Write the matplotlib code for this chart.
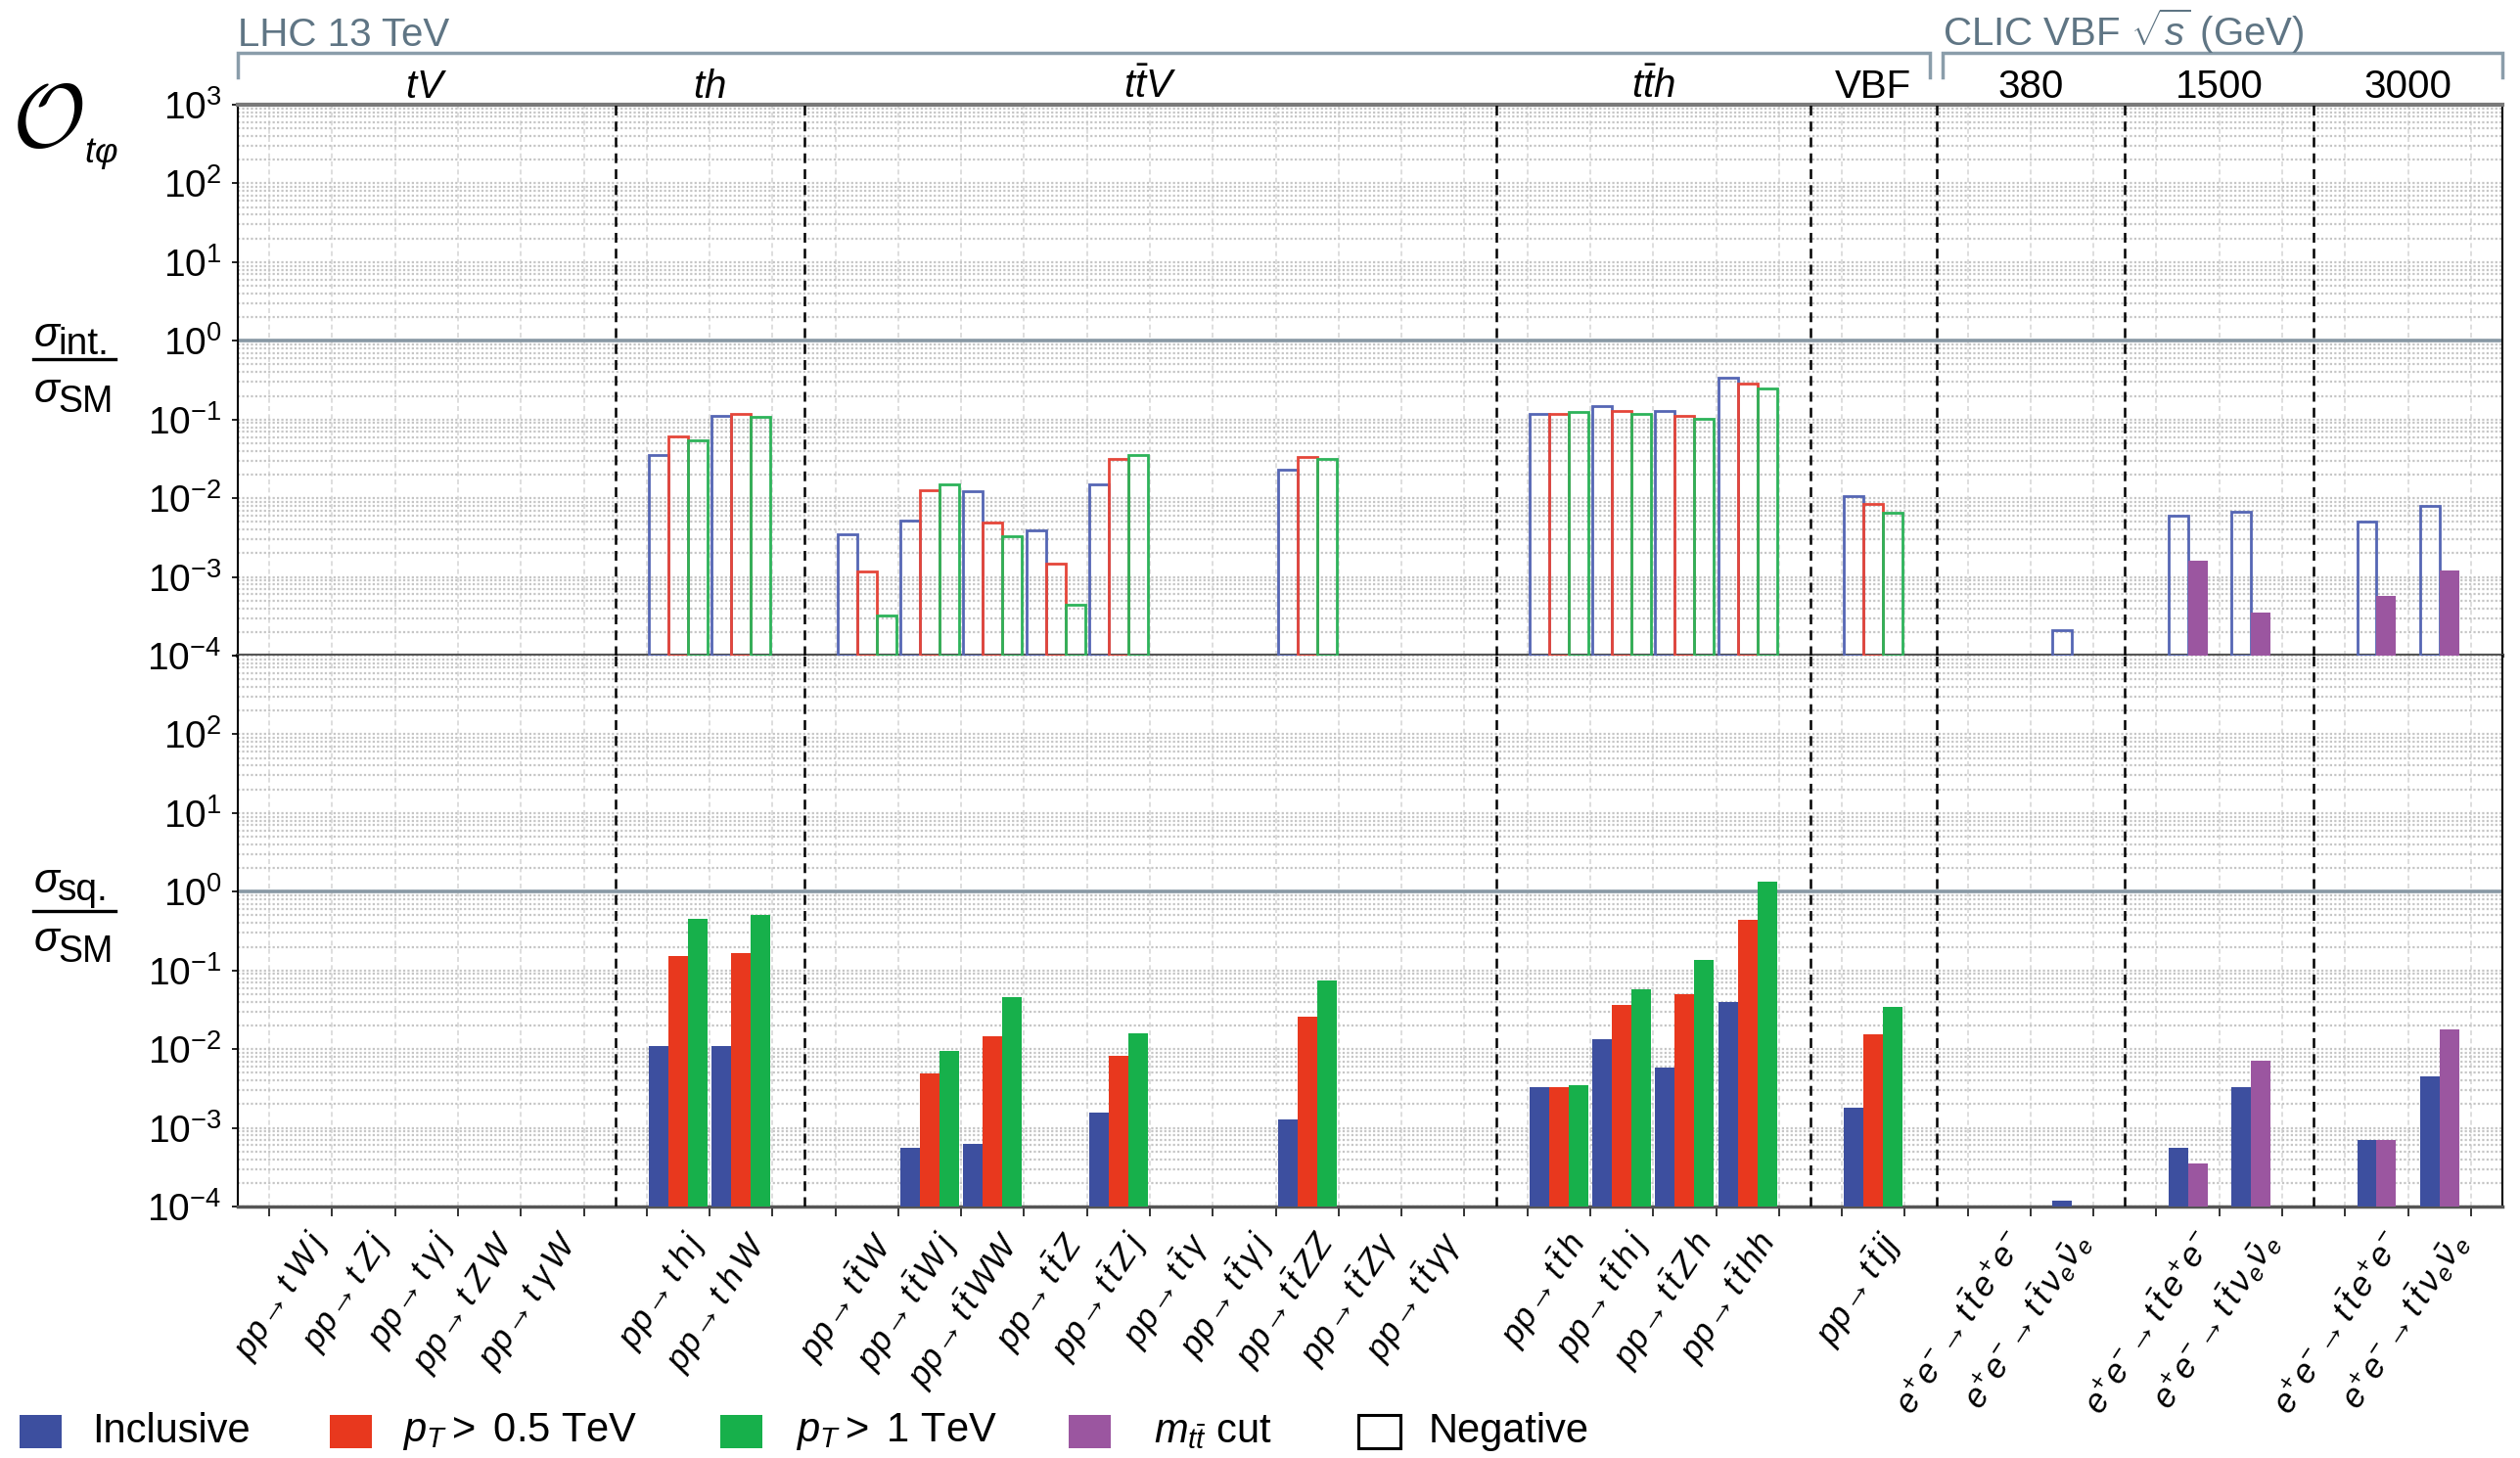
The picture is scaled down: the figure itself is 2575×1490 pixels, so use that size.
import numpy as np
import matplotlib
matplotlib.use('Agg')
import matplotlib.pyplot as plt
import matplotlib.transforms as mtransforms
from matplotlib.lines import Line2D
from matplotlib.patches import Rectangle
from matplotlib.ticker import LogLocator, NullFormatter

plt.rcParams['font.family'] = ['Liberation Sans', 'DejaVu Sans']
plt.rcParams['mathtext.fontset'] = 'custom'
plt.rcParams['mathtext.rm'] = 'Liberation Sans'
plt.rcParams['mathtext.it'] = 'Liberation Sans:italic'
plt.rcParams['mathtext.bf'] = 'Liberation Sans:bold'
plt.rcParams['mathtext.sf'] = 'Liberation Sans'

nan = np.nan

# ---------------- data ----------------
group_names = [r'$tV$', r'$th$', r'$t\bar{t}V$', r'$t\bar{t}h$', 'VBF', '380', '1500', '3000']
group_sizes = [5, 2, 10, 4, 1, 2, 2, 2]

categories = [
    r'$pp\!\rightarrow t\;W\,j$', r'$pp\!\rightarrow t\;Z\,j$', r'$pp\!\rightarrow t\;\gamma\,j$',
    r'$pp\!\rightarrow t\;Z\,W$', r'$pp\!\rightarrow t\;\gamma\,W$',
    r'$pp\!\rightarrow t\;h\,j$', r'$pp\!\rightarrow t\;h\,W$',
    r'$pp\!\rightarrow t\,\bar{t}\,W$', r'$pp\!\rightarrow t\,\bar{t}\,W\,j$', r'$pp\!\rightarrow t\,\bar{t}\,WW$',
    r'$pp\!\rightarrow t\,\bar{t}\,Z$', r'$pp\!\rightarrow t\,\bar{t}\,Z\,j$', r'$pp\!\rightarrow t\,\bar{t}\,\gamma$',
    r'$pp\!\rightarrow t\,\bar{t}\,\gamma\,j$', r'$pp\!\rightarrow t\,\bar{t}\,ZZ$', r'$pp\!\rightarrow t\,\bar{t}\,Z\gamma$',
    r'$pp\!\rightarrow t\,\bar{t}\,\gamma\gamma$',
    r'$pp\!\rightarrow t\,\bar{t}\,h$', r'$pp\!\rightarrow t\,\bar{t}\,h\,j$', r'$pp\!\rightarrow t\,\bar{t}\,Z\,h$',
    r'$pp\!\rightarrow t\,\bar{t}\,hh$',
    r'$pp\!\rightarrow t\,\bar{t}\,jj$',
    r'$e^{+}e^{-}\!\rightarrow t\,\bar{t}\,e^{+}e^{-}$', r'$e^{+}e^{-}\!\rightarrow t\,\bar{t}\,\nu_e\bar{\nu}_e$',
    r'$e^{+}e^{-}\!\rightarrow t\,\bar{t}\,e^{+}e^{-}$', r'$e^{+}e^{-}\!\rightarrow t\,\bar{t}\,\nu_e\bar{\nu}_e$',
    r'$e^{+}e^{-}\!\rightarrow t\,\bar{t}\,e^{+}e^{-}$', r'$e^{+}e^{-}\!\rightarrow t\,\bar{t}\,\nu_e\bar{\nu}_e$',
]

series_labels = ['Inclusive', r'$p_T>$ 0.5 TeV', r'$p_T>$ 1 TeV', r'$m_{t\bar{t}}$ cut']
# which series belong to each group (0 incl, 1 pT>0.5, 2 pT>1, 3 m_tt cut)
group_series = [[0, 1, 2]] * 5 + [[0], [0, 3], [0, 3]]

# sigma_int / sigma_SM  (negative values drawn as open bars)
int_incl = [nan, nan, nan, nan, nan, -0.035, -0.111,
             -0.0035, -0.0052, -0.0122, -0.0039, -0.0151, nan, nan, -0.023, nan, nan,
             -0.119, -0.15, -0.127, -0.34, -0.0107,
             nan, -0.00021, -0.0060, -0.0068, -0.0050, -0.0080]
int_pt05 = [nan, nan, nan, nan, nan, -0.061, -0.119,
             -0.00117, -0.0125, -0.0049, -0.00147, -0.032, nan, nan, -0.033, nan, nan,
             -0.118, -0.13, -0.11, -0.29, -0.0085,
             nan, nan, nan, nan, nan, nan]
int_pt1 = [nan, nan, nan, nan, nan, -0.054, -0.108,
            -0.00032, -0.0151, -0.0033, -0.00044, -0.035, nan, nan, -0.0316, nan, nan,
            -0.125, -0.117, -0.102, -0.25, -0.0065,
            nan, nan, nan, nan, nan, nan]
int_mtt = [nan] * 22 + [nan, nan, 0.0016, 0.00035, 0.00058, 0.00119]

# sigma_sq / sigma_SM
sq_incl = [nan, nan, nan, nan, nan, 0.011, 0.011,
           nan, 0.00055, 0.00063, nan, 0.00155, nan, nan, 0.00126, nan, nan,
           0.00327, 0.0133, 0.0059, 0.040, 0.0018,
           nan, 0.00012, 0.00055, 0.0033, 0.00071, 0.0045]
sq_pt05 = [nan, nan, nan, nan, nan, 0.151, 0.164,
           nan, 0.0049, 0.0147, nan, 0.0083, nan, nan, 0.026, nan, nan,
           0.00327, 0.036, 0.0497, 0.44, 0.0154,
           nan, nan, nan, nan, nan, nan]
sq_pt1 = [nan, nan, nan, nan, nan, 0.454, 0.51,
          nan, 0.0095, 0.046, nan, 0.0161, nan, nan, 0.074, nan, nan,
          0.0035, 0.0568, 0.135, 1.33, 0.034,
          nan, nan, nan, nan, nan, nan]
sq_mtt = [nan] * 22 + [nan, nan, 0.00035, 0.0072, 0.00071, 0.018]

ytick_vals = [1e-4, 1e-3, 1e-2, 1e-1, 1e0, 1e1, 1e2, 1e3]
ytick_labels = [r'$10^{-4}$', r'$10^{-3}$', r'$10^{-2}$', r'$10^{-1}$',
                r'$10^{0}$', r'$10^{1}$', r'$10^{2}$', r'$10^{3}$']

# ---------------- style ----------------
fill_colors = ['#3d4f9f', '#e8381e', '#17b04b', '#9b56a0']
edge_colors = ['#5566b4', '#e5463a', '#2db35a', '#9b56a0']
bar_w = 0.31
ymin, ymax = 1e-4, 1e3
TXT = 28

# ---------------- layout of categories ----------------
positions, cat_series, group_centers, boundaries = [], [], [], []
start = 0
for gi, n in enumerate(group_sizes):
    for k in range(1, n + 1):
        positions.append(start + k)
        cat_series.append(group_series[gi])
    group_centers.append(start + (n + 1) / 2)
    start += n + 1
    boundaries.append(start)
xmax = start

W, H = 2575, 1490
fig = plt.figure(figsize=(W / 100, H / 100), dpi=100)
L, R = 243 / W, 2557 / W
T, M, B = 1 - 107 / H, 1 - 670 / H, 1 - 1233 / H
ax1 = fig.add_axes([L, M, R - L, T - M])
ax2 = fig.add_axes([L, B, R - L, M - B], sharex=ax1)


def style_axis(ax, top_label):
    ax.set_yscale('log')
    ax.set_ylim(ymin, ymax)
    ax.set_xlim(0, xmax)
    ax.set_xticks(np.arange(0.5, xmax, 1.0))
    ax.set_yticks(ytick_vals)
    labs = list(ytick_labels)
    if not top_label:
        labs[-1] = ''
    ax.set_yticklabels(labs, fontsize=TXT)
    ax.yaxis.set_minor_locator(LogLocator(base=10, subs=np.arange(2, 10), numticks=40))
    ax.yaxis.set_minor_formatter(NullFormatter())
    ax.tick_params(axis='y', which='major', direction='out', length=4, width=1.2, pad=8, left=True, right=False)
    ax.tick_params(axis='y', which='minor', length=0)
    ax.grid(axis='x', which='major', color='#d8d8d8', linestyle=(0, (3, 2)), linewidth=1.2, zorder=0)
    ax.grid(axis='y', which='both', color='#c6c6c6', linestyle=(0, (1, 1)), linewidth=1.6, zorder=0)
    ax.set_axisbelow(True)
    ax.axhline(1.0, color='#8898a4', linewidth=2.6, zorder=2)
    for b in boundaries[:-1]:
        ax.axvline(b, color='black', linestyle=(0, (4, 2.5)), linewidth=1.8, zorder=3)
    for s in ['left', 'right']:
        ax.spines[s].set_color('black')
        ax.spines[s].set_linewidth(1.5)


style_axis(ax1, True)
style_axis(ax2, False)
ax1.tick_params(axis='x', which='both', length=0, labelbottom=False)
ax2.tick_params(axis='x', which='major', direction='out', length=7, width=1.4, color='#333333', labelbottom=False)
ax1.spines['top'].set_color('#7a7a7a')
ax1.spines['top'].set_linewidth(3)
ax1.spines['bottom'].set_color('#555555')
ax1.spines['bottom'].set_linewidth(3)
ax2.spines['top'].set_visible(False)
ax2.spines['bottom'].set_color('#555555')
ax2.spines['bottom'].set_linewidth(2.5)


def draw(ax, data):
    for ci, pos in enumerate(positions):
        sl = cat_series[ci]
        n = len(sl)
        for k, si in enumerate(sl):
            v = data[si][ci]
            if np.isnan(v):
                continue
            x = pos + (k - (n - 1) / 2) * bar_w
            if v < 0:
                ax.bar(x, abs(v) - ymin, bottom=ymin, width=bar_w, facecolor='none',
                       edgecolor=edge_colors[si], linewidth=2.0, zorder=4)
            else:
                ax.bar(x, v - ymin, bottom=ymin, width=bar_w, color=fill_colors[si],
                       linewidth=0, zorder=4)


draw(ax1, [int_incl, int_pt05, int_pt1, int_mtt])
draw(ax2, [sq_incl, sq_pt05, sq_pt1, sq_mtt])

# group labels above
tr1 = ax1.get_xaxis_transform()
for name, xc in zip(group_names, group_centers):
    ax1.text(xc, 1.012, name, transform=tr1, ha='center', va='baseline', fontsize=29)

# brackets
brk = '#8a9daa'
lhc_end = boundaries[4]
ax1.plot([0, 0, lhc_end - 0.1, lhc_end - 0.1], [1.050, 1.094, 1.094, 1.050], transform=tr1,
         clip_on=False, color=brk, linewidth=2.5, solid_joinstyle='miter')
ax1.plot([lhc_end + 0.1, lhc_end + 0.1, xmax, xmax], [1.050, 1.094, 1.094, 1.050], transform=tr1,
         clip_on=False, color=brk, linewidth=2.5, solid_joinstyle='miter')
ax1.text(0, 1.1066, 'LHC 13 TeV', transform=tr1, ha='left', va='baseline', fontsize=29, color='#5f7584')
ax1.text(lhc_end + 0.1, 1.1066, r'CLIC VBF $\sqrt{s}$ (GeV)', transform=tr1, ha='left', va='baseline',
         fontsize=29, color='#5f7584')

# category labels
off = mtransforms.ScaledTranslation(0.20, -0.30, fig.dpi_scale_trans)
tr2 = ax2.get_xaxis_transform() + off
for lab, pos in zip(categories, positions):
    ax2.text(pos, 0, lab, transform=tr2, rotation=57, rotation_mode='anchor',
             ha='right', va='center', fontsize=25)

# left-side labels
fig.text(12 / W, 1 - 150 / H, r'$\mathcal{O}$', math_fontfamily='cm', fontsize=66,
         ha='left', va='baseline')
fig.text(86 / W, 1 - 166 / H, r'$t\varphi$', ha='left', va='baseline', fontsize=26)


def frac(sub, yb_sig, yb_sub, yl, yb_dsig, yb_dsub):
    fig.text(34 / W, 1 - yb_sig / H, r'$\sigma$', ha='left', va='baseline', fontsize=31)
    fig.text(59 / W, 1 - yb_sub / H, sub, ha='left', va='baseline', fontsize=28)
    fig.add_artist(Line2D([34 / W, 118 / W], [1 - yl / H, 1 - yl / H], color='black', linewidth=2.4))
    fig.text(34 / W, 1 - yb_dsig / H, r'$\sigma$', ha='left', va='baseline', fontsize=31)
    fig.text(59 / W, 1 - yb_dsub / H, 'SM', ha='left', va='baseline', fontsize=27)


frac('int.', 354, 362, 367, 411, 421)
frac('sq.', 912, 920, 931, 972, 983)

# legend
leg_sq_x = [20, 337, 736, 1092, 1388]
leg_tx_x = [94, 411, 813, 1179, 1460]
leg_y = 1463
leg_labels = series_labels + ['Negative']
for i, lab in enumerate(leg_labels):
    if i < 4:
        rect = Rectangle((leg_sq_x[i] / W, 1 - (leg_y + 17) / H), 43 / W, 34 / H,
                         transform=fig.transFigure, facecolor=fill_colors[i], edgecolor='none')
    else:
        rect = Rectangle((leg_sq_x[i] / W, 1 - (leg_y + 17) / H), 43 / W, 34 / H,
                         transform=fig.transFigure, facecolor='none', edgecolor='black', linewidth=2.2)
    fig.add_artist(rect)
    fig.text(leg_tx_x[i] / W, 1 - leg_y / H, lab, ha='left', va='center', fontsize=30)

fig.savefig('out.png', dpi=100, facecolor='white')
